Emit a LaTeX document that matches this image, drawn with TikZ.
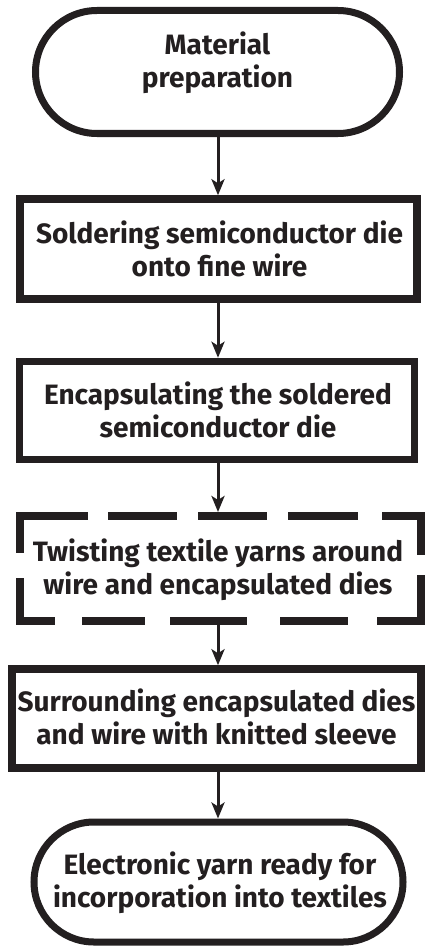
\documentclass[tikz,border=0pt]{standalone}
\usepackage{fontspec}
\setmainfont{Fira Sans}
\usetikzlibrary{arrows.meta,shapes.misc}
\definecolor{ink}{HTML}{231F20}
\begin{document}
\begin{tikzpicture}[x=1pt,y=-1pt,
  txt/.style={text=ink, font=\bfseries\fontsize{28}{33}\selectfont, align=center, inner sep=0pt},
  term/.style={draw=ink, line width=7pt, rounded rectangle, inner sep=0pt},
  procbox/.style={draw=ink, line width=7.5pt, rectangle, inner sep=0pt},
  dashbox/.style={draw=none, line width=8pt, rectangle, inner sep=0pt},
  dashside/.style={draw=ink, line width=8pt},
  arr/.style={draw=ink, line width=3pt, -{Stealth[length=16pt,width=13pt,inset=4pt]}}]
\useasboundingbox (0,0) rectangle (425,947);
\fill[white] (0,0) rectangle (425,947);
\coordinate (ax) at (218,0);

\node[term, minimum width=364pt, minimum height=123pt] (t1) at (217.5,72) {};
\node[txt] (t1txt) at (217.5,63) {Material\\preparation};

\node[procbox, minimum width=397pt, minimum height=100pt] (b1) at (218.5,249) {};
\node[txt] (b1txt) at (219.5,249) {Soldering semiconductor die\\onto fine wire};

\node[procbox, minimum width=395pt, minimum height=98pt] (b2) at (217,410.5) {};
\node[txt] (b2txt) at (218,409.5) {Encapsulating the soldered\\semiconductor die};

\node[dashbox, minimum width=401pt, minimum height=105pt] (d) at (220.5,568.5) {};
\node[txt] (dtxt) at (218,570) {Twisting textile yarns around\\wire and encapsulated dies};
\draw[dashside, dash pattern=on 72pt off 20pt on 69pt off 21pt on 69pt off 21pt on 70pt off 24pt on 60pt]
  ([yshift=-4pt]d.north west) -- ([yshift=-4pt]d.north east);
\draw[dashside, dash pattern=on 39pt off 27pt on 63pt off 25pt on 77pt off 33pt on 68pt off 29pt on 60pt]
  ([yshift=4pt]d.south west) -- ([yshift=4pt]d.south east);
\draw[dashside, dash pattern=on 41pt off 25pt on 60pt]
  ([xshift=4pt]d.north west) -- ([xshift=4pt]d.south west);
\draw[dashside, dash pattern=on 43pt off 20pt on 60pt]
  ([xshift=-4pt]d.north east) -- ([xshift=-4pt]d.south east);

\node[procbox, minimum width=409pt, minimum height=99pt] (b4) at (216.5,718.5) {};
\node[txt] (b4txt) at (216.5,716.5) {Surrounding encapsulated dies\\and wire with knitted sleeve};

\node[term, minimum width=369pt, minimum height=120pt] (t2) at (218.5,882) {};
\node[txt] (t2txt) at (220,883) {Electronic yarn ready for\\incorporation into textiles};

\draw[arr] (ax |- t1.south) -- (ax |- b1.north);
\draw[arr] (ax |- b1.south) -- (ax |- b2.north);
\draw[arr] (ax |- b2.south) -- (ax |- d.north);
\draw[arr] (ax |- d.south) -- (ax |- b4.north);
\draw[arr] (ax |- b4.south) -- (ax |- t2.north);
\end{tikzpicture}
\end{document}
